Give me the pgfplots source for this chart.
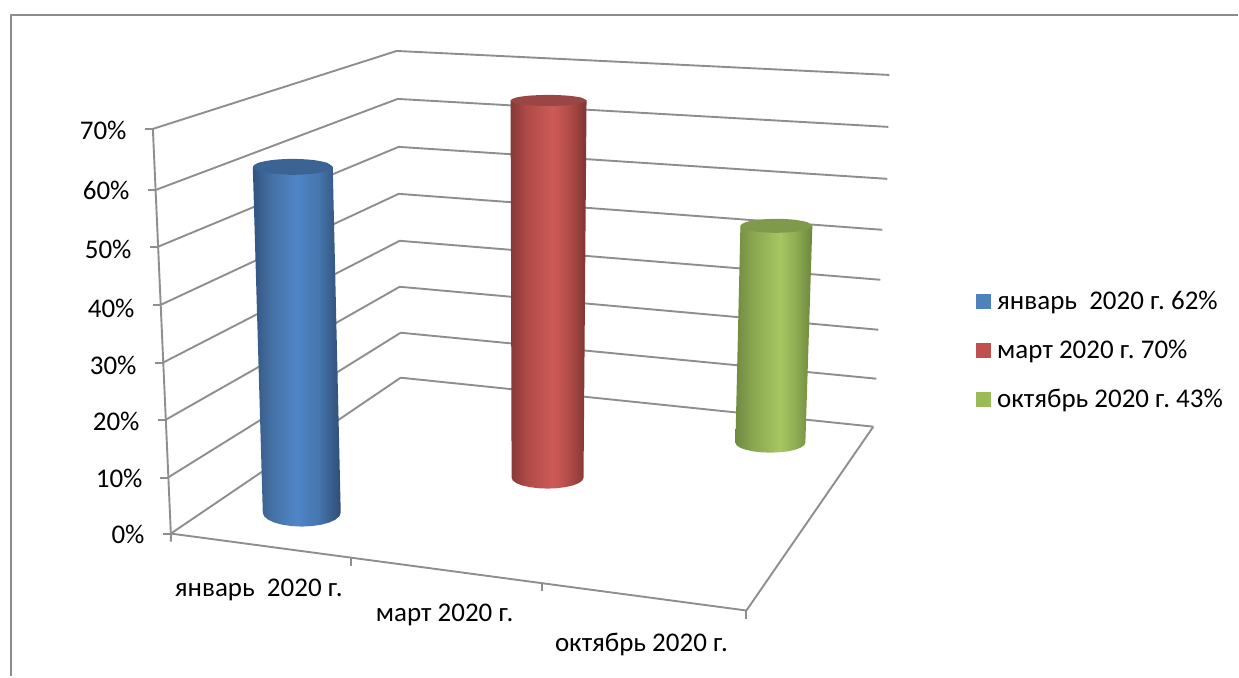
\documentclass[border=0pt]{standalone}
\usepackage{fontspec}
\setmainfont{Carlito}
\usepackage{pgfplots}
\pgfplotsset{compat=1.18}
\frenchspacing

\definecolor{gridgray}{HTML}{8E8E8E}
\definecolor{framegray}{HTML}{8C8C8C}
\definecolor{legblue}{HTML}{4F81BD}
\definecolor{legred}{HTML}{C0504D}
\definecolor{leggreen}{HTML}{9BBB59}
\definecolor{topblue}{HTML}{3B6495}
\definecolor{topred}{HTML}{9A4644}
\definecolor{topgreen}{HTML}{7F9A4A}

\definecolor{ba}{HTML}{325480}
\definecolor{bb}{HTML}{4672A5}
\definecolor{bc}{HTML}{4E86C8}
\definecolor{bd}{HTML}{4677AE}
\definecolor{be}{HTML}{2F4D75}
\definecolor{ra}{HTML}{863937}
\definecolor{rb}{HTML}{B04B48}
\definecolor{rc}{HTML}{CD5A57}
\definecolor{rd}{HTML}{B34C49}
\definecolor{re}{HTML}{7F3634}
\definecolor{ga}{HTML}{708A40}
\definecolor{gb}{HTML}{8BA851}
\definecolor{gc}{HTML}{A6C661}
\definecolor{gd}{HTML}{8FAD53}
\definecolor{ge}{HTML}{6C863E}

% tikz fits the middle 50bp of a shading onto the path
\pgfdeclarehorizontalshading{cylblue}{100bp}{
  color(0bp)=(ba); color(25bp)=(ba); color(36bp)=(bb);
  color(50bp)=(bc); color(62bp)=(bd); color(75bp)=(be); color(100bp)=(be)}
\pgfdeclarehorizontalshading{cylred}{100bp}{
  color(0bp)=(ra); color(25bp)=(ra); color(36bp)=(rb);
  color(53bp)=(rc); color(63bp)=(rd); color(75bp)=(re); color(100bp)=(re)}
\pgfdeclarehorizontalshading{cylgreen}{100bp}{
  color(0bp)=(ga); color(25bp)=(ga); color(37bp)=(gb);
  color(54bp)=(gc); color(64bp)=(gd); color(75bp)=(ge); color(100bp)=(ge)}

\begin{document}
\begin{tikzpicture}
\begin{axis}[
    scale only axis,
    width=619.5pt,
    height=338.5pt,
    xmin=0, xmax=1239,
    ymin=0, ymax=677,
    y dir=reverse,
    axis lines=none,
    clip=false,
    font=\fontsize{13.5}{15}\selectfont,
    every axis plot/.append style={line join=round},
    grid line/.style={gridgray, line width=0.95pt, forget plot},
    legend style={
        at={(977/1239,1-351/677)}, anchor=west,
        draw=none, fill=none, inner sep=0pt, outer sep=0pt,
        row sep=13.7pt,
        nodes={inner sep=0pt, outer sep=0pt},
        font=\fontsize{13.5}{15}\selectfont,
    },
    legend cell align=left,
    legend image code/.code={
        \fill[draw=none, #1] (0pt,-3.75pt) rectangle (7.5pt,3.75pt);
    },
]

% keeps the page the size of the whole axis
\addplot[draw=none, forget plot] coordinates {(0,0) (1239,677)};

% outer frame
\addplot[framegray, line width=1pt, forget plot] coordinates {(11,677) (11,15) (1239,15)};

% walls: front edge, back corner, right end for 70% ... 0%
\addplot[grid line] coordinates {(153,129) (397,51) (890,75)};
\addplot[grid line] coordinates {(156,190) (398,99) (889,127)};
\addplot[grid line] coordinates {(158,247) (399,147) (888,179)};
\addplot[grid line] coordinates {(161,305) (399,194) (883,230)};
\addplot[grid line] coordinates {(163,363) (400,241) (881,280)};
\addplot[grid line] coordinates {(166,420) (400,287) (879,330)};
\addplot[grid line] coordinates {(168,478) (401,333) (877,379)};
\addplot[grid line] coordinates {(171,534) (401,378) (874,427)};

% axis lines and ticks
\addplot[grid line] coordinates {(153,129) (171,534) (171,542)};
\addplot[grid line] coordinates {(171,534) (747,611) (874,427)};
\addplot[grid line] coordinates {(145,129) (153,129)};
\addplot[grid line] coordinates {(148,190) (156,190)};
\addplot[grid line] coordinates {(150,247) (158,247)};
\addplot[grid line] coordinates {(153,305) (161,305)};
\addplot[grid line] coordinates {(155,363) (163,363)};
\addplot[grid line] coordinates {(158,420) (166,420)};
\addplot[grid line] coordinates {(160,478) (168,478)};
\addplot[grid line] coordinates {(163,534) (171,534)};
\addplot[grid line] coordinates {(351,558) (351,566)};
\addplot[grid line] coordinates {(542,583) (542,591)};
\addplot[grid line] coordinates {(747,611) (747,619)};

% cylinder 1: 62%
\addplot[draw=none, shade, shading=cylblue, forget plot] coordinates {
 (253,167) (263,513) (264.3,516.6) (268.2,520) (274.4,522.9) (282.5,525.1) (291.9,526.5) (302,527)
 (312.1,526.5) (321.5,525.1) (329.6,522.9) (335.8,520) (339.7,516.6) (341,513) (333,167)};
\addplot[draw=none, fill=topblue, smooth, forget plot] coordinates {
 (333,167) (327.6,171) (313,173.9) (293,175) (273,173.9) (258.4,171) (253,167)
 (258.4,163) (273,160.1) (293,159) (313,160.1) (327.6,163) (333,167)};

% cylinder 2: 70%
\addplot[draw=none, shade, shading=cylred, forget plot] coordinates {
 (511,100.5) (512,478) (513.2,480.8) (516.8,483.5) (522.5,485.8) (530,487.5) (538.7,488.6) (548,489)
 (557.3,488.6) (566,487.5) (573.5,485.8) (579.2,483.5) (582.8,480.8) (584,478) (587,100.5)};
\addplot[draw=none, fill=topred, smooth, forget plot] coordinates {
 (587,100.5) (581.9,103.3) (568,105.3) (549,106) (530,105.3) (516.1,103.3) (511,100.5)
 (516.1,97.7) (530,95.7) (549,95) (568,95.7) (581.9,97.7) (587,100.5)};

% cylinder 3: 43%
\addplot[draw=none, shade, shading=cylgreen, forget plot] coordinates {
 (741,226) (736,443) (737.2,445.6) (740.7,448) (746.3,450.1) (753.5,451.7) (761.9,452.7) (771,453)
 (780.1,452.7) (788.5,451.7) (795.7,450.1) (801.3,448) (804.8,445.6) (806,443) (813,226)};
\addplot[draw=none, fill=topgreen, smooth, forget plot] coordinates {
 (813,226) (808.2,229.5) (795,232.1) (777,233) (759,232.1) (745.8,229.5) (741,226)
 (745.8,222.5) (759,219.9) (777,219) (795,219.9) (808.2,222.5) (813,226)};

% tick labels
\node[anchor=east, inner sep=0pt] at (axis cs:127,131) {70\%};
\node[anchor=east, inner sep=0pt] at (axis cs:130,191) {60\%};
\node[anchor=east, inner sep=0pt] at (axis cs:132,250) {50\%};
\node[anchor=east, inner sep=0pt] at (axis cs:135,309) {40\%};
\node[anchor=east, inner sep=0pt] at (axis cs:137,366) {30\%};
\node[anchor=east, inner sep=0pt] at (axis cs:140,422) {20\%};
\node[anchor=east, inner sep=0pt] at (axis cs:143,479) {10\%};
\node[anchor=east, inner sep=0pt] at (axis cs:145,535) {0\%};
\node[inner sep=0pt] at (axis cs:259,590) {январь\ \ 2020 г.};
\node[inner sep=0pt] at (axis cs:445,615) {март 2020 г.};
\node[inner sep=0pt] at (axis cs:642,645) {октябрь 2020 г.};

% legend
\addlegendimage{fill=legblue}
\addlegendentry{\hspace{3pt}январь\ \ 2020 г. 62\%}
\addlegendimage{fill=legred}
\addlegendentry{\hspace{3pt}март 2020 г. 70\%}
\addlegendimage{fill=leggreen}
\addlegendentry{\hspace{3pt}октябрь 2020 г. 43\%}

\end{axis}
\end{tikzpicture}
\end{document}
